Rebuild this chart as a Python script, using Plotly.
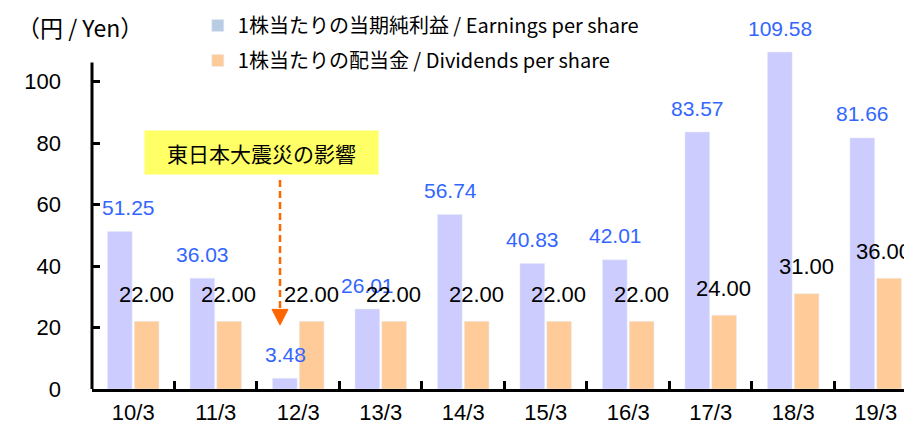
import plotly.graph_objects as go

years = ["10/3", "11/3", "12/3", "13/3", "14/3", "15/3", "16/3", "17/3", "18/3", "19/3"]
eps = [51.25, 36.03, 3.48, 26.01, 56.74, 40.83, 42.01, 83.57, 109.58, 81.66]
dividends = [22.00, 22.00, 22.00, 22.00, 22.00, 22.00, 22.00, 24.00, 31.00, 36.00]

eps_name = "1株当たりの当期純利益 / Earnings per share"
div_name = "1株当たりの配当金 / Dividends per share"

EPS_BAR = "#CCCCFF"
EPS_KEY = "#B8CCE4"
DIV_BAR = "#FFCC99"
EPS_TEXT = "#3366FF"
ORANGE = "#FF6600"

JP = "Noto Sans CJK JP"
NUM = "Liberation Sans"

fig = go.Figure()

# legend-only keys (the legend swatch for EPS is bluer than the bars)
fig.add_trace(go.Bar(x=[None], y=[None], name=eps_name, marker_color=EPS_KEY,
                     offsetgroup="eps", legendgroup="a"))
fig.add_trace(go.Bar(x=[None], y=[None], name=div_name, marker_color=DIV_BAR,
                     offsetgroup="div", legendgroup="b"))

fig.add_trace(go.Bar(x=years, y=eps, marker_color=EPS_BAR, offsetgroup="eps",
                     showlegend=False, hoverinfo="x+y"))
fig.add_trace(go.Bar(x=years, y=dividends, marker_color=DIV_BAR, offsetgroup="div",
                     showlegend=False, hoverinfo="x+y"))

annotations = []
for i, (yr, v) in enumerate(zip(years, eps)):
    # first label is nudged right so it clears the y axis
    shift = -5 if i == 0 else -13
    annotations.append(dict(x=yr, y=v, text=f"{v:.2f}", showarrow=False,
                            xshift=shift, yshift=24, yanchor="middle",
                            font=dict(family=NUM, size=21, color=EPS_TEXT)))
for i, (yr, v) in enumerate(zip(years, dividends)):
    # last label pulled in a little at the right edge
    shift = 8 if i == len(years) - 1 else 13
    annotations.append(dict(x=yr, y=v, text=f"{v:.2f}", showarrow=False,
                            xshift=shift, yshift=27, yanchor="middle",
                            font=dict(family=NUM, size=22, color="black")))

# unit label
annotations.append(dict(xref="paper", yref="paper", x=-0.094, y=0.981,
                        xanchor="left", yanchor="middle", showarrow=False,
                        text="（円 / Yen）", font=dict(family=JP, size=23, color="black")))

# earthquake note
annotations.append(dict(x=1.555, y=77.0, text="東日本大震災の影響", showarrow=False,
                        bgcolor="#FFFF66", width=231, height=41, borderpad=1,
                        font=dict(family=JP, size=21, color="black")))

shapes = [
    # y axis line stops short of the tallest bar
    dict(type="line", xref="paper", yref="y", x0=0, x1=0, y0=0, y1=106.2,
         line=dict(color="black", width=3)),
    # dashed arrow from the note down to 12/3
    dict(type="line", xref="x", yref="y", x0=1.779, x1=1.779, y0=68.0, y1=25.5,
         line=dict(color=ORANGE, width=2.5, dash="7px,4px")),
    dict(type="path", xref="x", yref="y",
         path="M 1.682 25.9 L 1.876 25.9 L 1.779 20.8 Z",
         fillcolor=ORANGE, line=dict(color=ORANGE, width=1)),
]

# the page body adds an 8px offset, so the figure is sized to the visible area
fig.update_layout(
    width=904,
    height=418,
    margin=dict(l=84, r=0, t=12, b=37, autoexpand=False),
    plot_bgcolor="white",
    paper_bgcolor="white",
    barmode="group",
    bargap=0.35,
    bargroupgap=0.08,
    annotations=annotations,
    shapes=shapes,
    legend=dict(x=0.129, y=1.038, xanchor="left", yanchor="top",
                font=dict(family=JP, size=20, color="black"),
                tracegroupgap=6, bgcolor="rgba(0,0,0,0)"),
    xaxis=dict(type="category", range=[-0.5, 9.44], showline=True, linewidth=3,
               linecolor="black", ticks="inside", tickson="boundaries", ticklen=8,
               tickwidth=3, tickcolor="black", showgrid=False, zeroline=False,
               automargin=False,
               tickfont=dict(family=NUM, size=22, color="black"),
               ticklabelstandoff=2),
    yaxis=dict(range=[0, 120], tickvals=[0, 20, 40, 60, 80, 100], showline=False,
               ticks="inside", ticklen=8, tickwidth=3, tickcolor="black",
               showgrid=False, zeroline=False, automargin=False,
               tickfont=dict(family=NUM, size=22, color="black"),
               ticklabelstandoff=30),
)

fig.write_html("out.html")
